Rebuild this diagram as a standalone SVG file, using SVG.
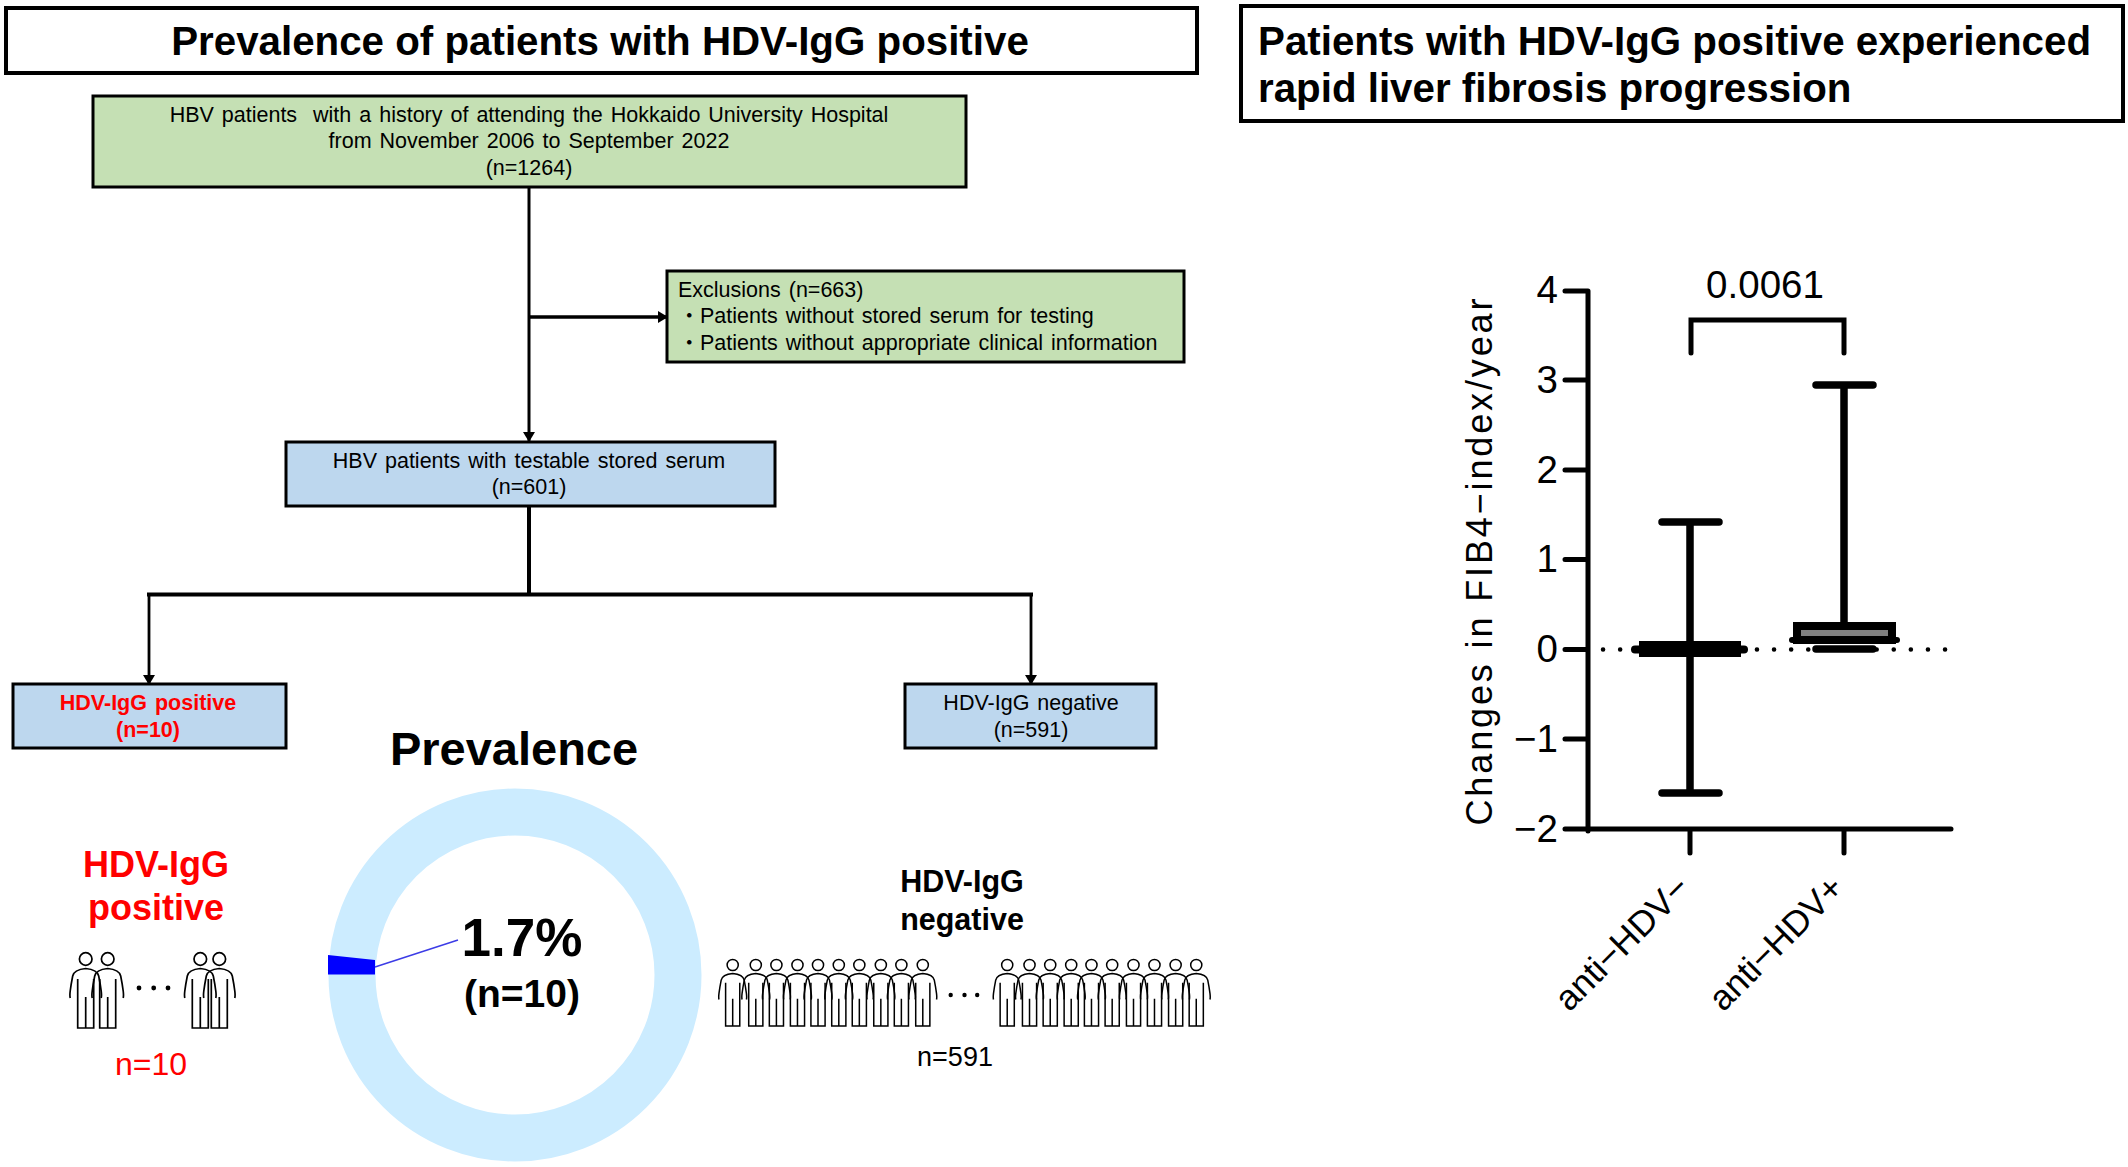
<svg xmlns="http://www.w3.org/2000/svg" width="2128" height="1167" viewBox="0 0 2128 1167">
<style>
text{font-family:"Liberation Sans","Noto Sans CJK JP",Arial,sans-serif;fill:#000}
.b{font-weight:700}
.m{text-anchor:middle}
.e{text-anchor:end}
.red{fill:#f00}
.t{font-size:40.3px;font-weight:700}
.f{font-size:21.5px;word-spacing:2px}
.box{stroke:#000;stroke-width:4}
.nb{stroke:#000;stroke-width:3}
.g{fill:#C5E0B4}
.bl{fill:#BDD7EE}
.c{fill:none;stroke:#000}
.ax{fill:none;stroke:#000;stroke-width:5;stroke-linecap:round}
.wh{fill:none;stroke:#000;stroke-width:7.500;stroke-linecap:round}
.lab{font-size:38.500px}
.p{fill:none;stroke:#000;stroke-width:1.700}
</style>
<defs>
<marker id="ah" markerUnits="userSpaceOnUse" markerWidth="10" markerHeight="12" refX="9" refY="6" orient="auto"><path d="M0 0L10 6L0 12Z" fill="#000"/></marker>
<g id="person" class="p"><circle cx="0" cy="0" r="6.300"/><path d="M-8 20V69H8V20M0 69V38M-15.500 39C-16 37-16 36-15.500 32C-15 28-14 22-13 17C-12 12-5 10 0 9.500C5 10 12 12 13 17C14 22 15 28 15.500 32C16 36 16 37 15.500 39"/></g>
</defs>
<rect width="2128" height="1167" fill="#fff"/>
<g id="connectors">
<path class="c" stroke-width="3" d="M529 187V441" marker-end="url(#ah)"/>
<path class="c" stroke-width="3.500" d="M529 317H667" marker-end="url(#ah)"/>
<path class="c" stroke-width="4" d="M529 506V594"/>
<path class="c" stroke-width="4" d="M147 594.500H1033"/>
<path class="c" stroke-width="2.800" d="M149 594V684" marker-end="url(#ah)"/>
<path class="c" stroke-width="2.800" d="M1031 594V684" marker-end="url(#ah)"/>
</g>
<g id="title-left"><rect class="box" x="6" y="8" width="1191" height="65" fill="#fff"/><text class="t m" x="600" y="55">Prevalence of patients with HDV-IgG positive</text></g>
<g id="title-right"><rect class="box" x="1241" y="6" width="882" height="115" fill="#fff"/><text class="t" x="1258" y="55">Patients with HDV-IgG positive experienced</text><text class="t" x="1258" y="102">rapid liver fibrosis progression</text></g>
<g id="node-hbv"><rect class="nb g" x="93" y="96" width="873" height="91"/><text class="f m" xml:space="preserve" x="529" y="122">HBV patients  with a history of attending the Hokkaido University Hospital</text><text class="f m" x="529" y="148">from November 2006 to September 2022</text><text class="f m" x="529" y="175">(n=1264)</text></g>
<g id="node-exclusions"><rect class="nb g" x="667" y="271" width="517" height="91"/><text class="f" x="678" y="297">Exclusions (n=663)</text><text class="f" x="678.500" y="323">・Patients without stored serum for testing</text><text class="f" x="678.500" y="350">・Patients without appropriate clinical information</text></g>
<g id="node-testable"><rect class="nb bl" x="286" y="442" width="489" height="64"/><text class="f m" x="529" y="468">HBV patients with testable stored serum</text><text class="f m" x="529" y="494">(n=601)</text></g>
<g id="node-positive"><rect class="nb bl" x="13" y="684" width="273" height="64"/><text class="f m b red" x="148" y="710">HDV-IgG positive</text><text class="f m b red" x="148" y="737">(n=10)</text></g>
<g id="node-negative"><rect class="nb bl" x="905" y="684" width="251" height="64"/><text class="f m" x="1031" y="710">HDV-IgG negative</text><text class="f m" x="1031" y="737">(n=591)</text></g>
<g id="donut">
<text class="b m" font-size="47" x="514" y="765">Prevalence</text>
<circle cx="515" cy="975" r="163" fill="none" stroke="#CCECFF" stroke-width="47"/>
<path d="M328 955L375 960V974.500H328Z" fill="#00f"/>
<path d="M375 967L458 940" stroke="#3c3ce6" stroke-width="1.500" fill="none"/>
<text class="b m" font-size="53" x="522" y="956">1.7%</text>
<text class="b m" font-size="39" x="522" y="1007">(n=10)</text>
</g>
<g id="group-positive">
<text class="b m red" font-size="36" x="156" y="877">HDV-IgG</text><text class="b m red" font-size="36" x="156" y="920">positive</text>
<use href="#person" x="85.700" y="959"/><use href="#person" x="107.700" y="959"/><use href="#person" x="200.300" y="959"/><use href="#person" x="219.300" y="959"/>
<circle cx="139" cy="988" r="2.400"/><circle cx="153.700" cy="988" r="2.400"/><circle cx="168" cy="988" r="2.400"/>
<text class="m red" font-size="32" x="151" y="1075">n=10</text>
</g>
<g id="group-negative">
<text class="b m" font-size="30.500" x="962" y="892">HDV-IgG</text><text class="b m" font-size="30.500" x="962" y="930">negative</text>
<g transform="translate(0 965) scale(.885)">
<use href="#person" x="827.900"/><use href="#person" x="854"/><use href="#person" x="877.300"/><use href="#person" x="901.100"/><use href="#person" x="924.300"/><use href="#person" x="947.800"/><use href="#person" x="971"/><use href="#person" x="995.300"/><use href="#person" x="1018.500"/><use href="#person" x="1042.700"/>
<use href="#person" x="1138.100"/><use href="#person" x="1163.300"/><use href="#person" x="1186.700"/><use href="#person" x="1210.400"/><use href="#person" x="1233.300"/><use href="#person" x="1256.700"/><use href="#person" x="1280.800"/><use href="#person" x="1304.500"/><use href="#person" x="1328.400"/><use href="#person" x="1351.700"/>
</g>
<circle cx="950.700" cy="995" r="2.200"/><circle cx="964.500" cy="995" r="2.200"/><circle cx="977.200" cy="995" r="2.200"/>
<text class="m" font-size="27" x="955" y="1066">n=591</text>
</g>
<g id="chart">
<path d="M1603 649.500H1947" fill="none" stroke="#000" stroke-width="4.500" stroke-dasharray="0.100 17" stroke-linecap="round"/>
<path class="ax" d="M1588 291V831M1565 291H1588M1565 380H1588M1565 470H1588M1565 559.500H1588M1565 649.500H1588M1565 739H1588M1565 829H1951M1690 829V853M1844 829V853"/>
<text class="lab e" x="1558" y="303">4</text><text class="lab e" x="1558" y="393">3</text><text class="lab e" x="1558" y="483">2</text><text class="lab e" x="1558" y="572">1</text><text class="lab e" x="1558" y="662">0</text><text class="lab e" x="1558" y="752">−1</text><text class="lab e" x="1558" y="842">−2</text>
<text font-size="36" text-anchor="middle" transform="translate(1492 562) rotate(-90)" textLength="527">Changes in FIB4−index/year</text>
<path class="wh" d="M1690 522V793M1662 522H1719M1662 793H1719"/>
<rect x="1639" y="641" width="102" height="16"/>
<path d="M1635 649.500H1744" stroke="#000" stroke-width="8" stroke-linecap="round"/>
<path class="wh" d="M1844 385V630M1816 385H1873M1816 649H1873"/>
<rect x="1797" y="626" width="95" height="14" fill="#808080" stroke="#000" stroke-width="8"/>
<path d="M1792 640H1897" stroke="#000" stroke-width="6" stroke-linecap="round"/>
<path class="ax" d="M1691 353V320H1844V353"/>
<text class="lab m" x="1765" y="298">0.0061</text>
<text class="e" font-size="35.500" transform="translate(1692 890) rotate(-45)">anti−HDV−</text>
<text class="e" font-size="35.500" transform="translate(1846 890) rotate(-45)">anti−HDV+</text>
</g>
</svg>
